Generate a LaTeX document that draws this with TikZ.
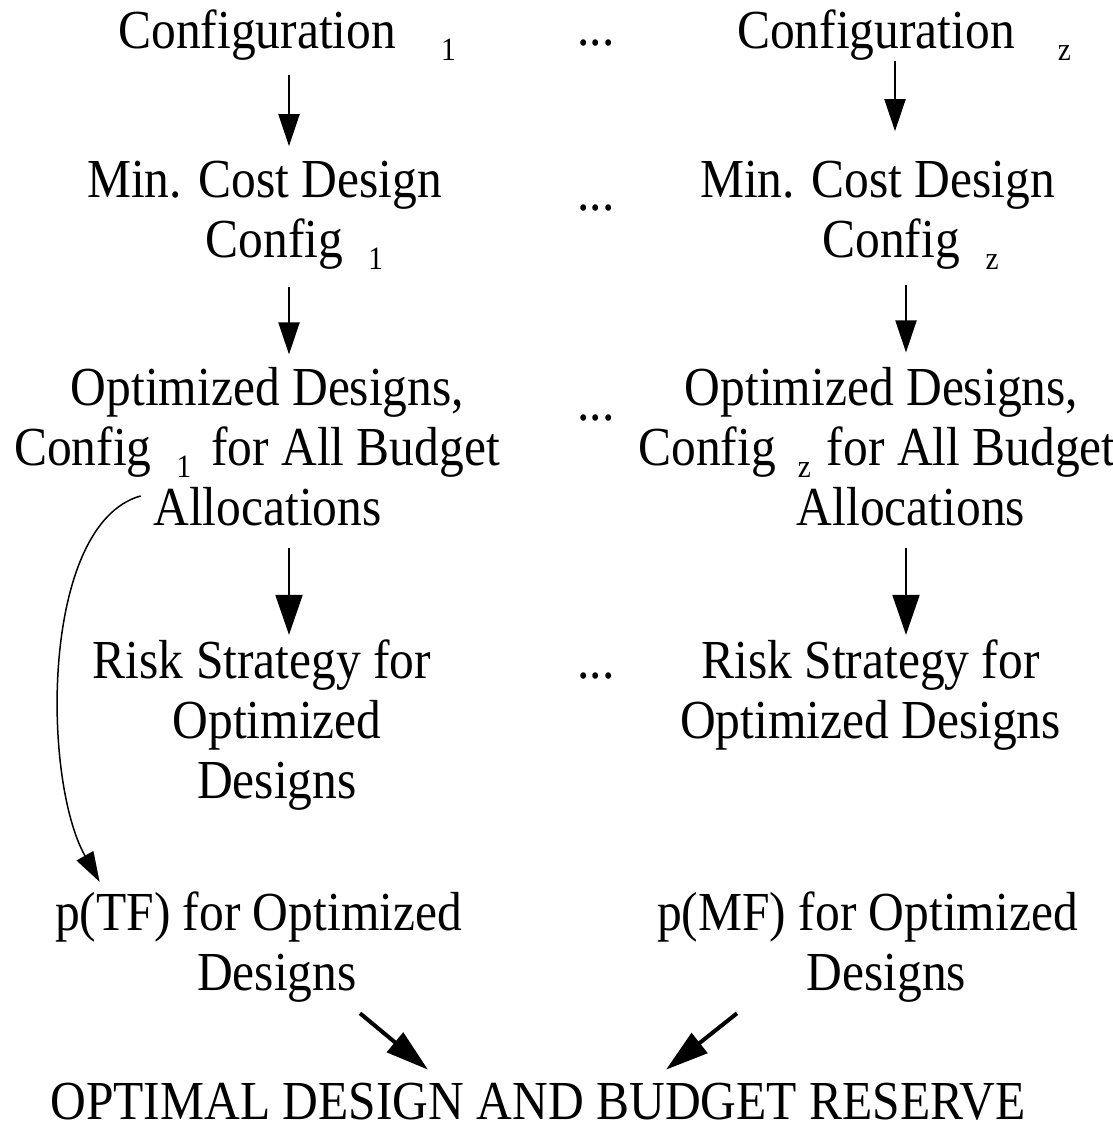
\documentclass[tikz,border=0pt]{standalone}
\usepackage{fontspec}
\setmainfont{Liberation Serif}[FakeStretch=0.9]
\usetikzlibrary{arrows.meta}

\newcommand{\idx}[1]{\raisebox{-6pt}{\fontsize{16.3}{18}\selectfont #1}}

\tikzset{
  blk/.style={font=\fontsize{27.5}{30}\selectfont, inner sep=0pt, align=center, anchor=base},
  flow/.style={line width=1pt, -{Triangle[length=16pt,width=10.5pt]}},
  bigflow/.style={line width=1pt, -{Triangle[length=20pt,width=13.5pt]}},
  joinflow/.style={line width=2pt, -{Triangle[length=21.5pt,width=12.5pt]}},
  sidearc/.style={line width=0.75pt, -{Triangle[length=15pt,width=9.5pt]}},
}

\begin{document}
\begin{tikzpicture}[x=0.5pt,y=-0.5pt]
    \useasboundingbox (0,0) rectangle (1113,1124);
    % first configuration (y is the baseline of the last line)
    \node[blk] (cfgA) at (287,48) {Configuration\hspace{22.5pt}\idx{1}};
    \node[blk] (mcdA) at (264.5,257) {Min. Cost Design\\\hspace*{30pt}Config\hspace{12.5pt}\idx{1}};
    \node[blk] (optA) at (267.5,525) {Optimized Designs,\\Config\hspace{12.5pt}\idx{1}\hspace{10pt}for All Budget\hspace*{10.5pt}\null\\Allocations};
    \node[blk] (riskA) at (262,798) {Risk Strategy for\\\hspace*{15pt}Optimized\\\hspace*{15pt}Designs};
    \node[blk] (ptfA) at (258.5,990) {p(TF) for Optimized\\\hspace*{18.5pt}Designs};
    % last configuration
    \node[blk] (cfgZ) at (904,48) {Configuration\hspace{21.5pt}\idx{z}};
    \node[blk] (mcdZ) at (877.5,257) {Min. Cost Design\\\hspace*{33pt}Config\hspace{13pt}\idx{z}};
    \node[blk] (optZ) at (881.5,525) {Optimized Designs,\\Config\hspace{11pt}\idx{z}\hspace{8pt}for All Budget\hspace*{4.5pt}\null\\\hspace*{29.5pt}Allocations};
    \node[blk] (riskZ) at (870.5,738) {Risk Strategy for\\Optimized Designs};
    \node[blk] (pmfZ) at (867.5,990) {p(MF) for Optimized\\\hspace*{19pt}Designs};
    % the ones in between
    \foreach \y [count=\i] in {45,210,420,678}
        \node[blk] (dots\i) at (596,\y) {...};
    % result
    \node[blk] (goal) at (538,1119) {OPTIMAL DESIGN AND BUDGET RESERVE};

    % column lanes
    \coordinate (laneA) at (289,0);
    \coordinate (laneZtop) at (895,0);
    \coordinate (laneZ) at (906,0);

    % arrows down the columns
    \draw[flow, shorten <=7.5pt, shorten >=7pt] (cfgA.south -| laneA) -- (mcdA.north -| laneA);
    \draw[flow, shorten <=9pt, shorten >=6pt] (mcdA.south -| laneA) -- (optA.north -| laneA);
    \draw[bigflow, shorten <=11pt, shorten >=2pt] (optA.south -| laneA) -- (riskA.north -| laneA);
    \draw[flow, shorten <=0.5pt, shorten >=14.5pt] (cfgZ.south -| laneZtop) -- (mcdZ.north -| laneZtop);
    \draw[flow, shorten <=8pt, shorten >=7pt] (mcdZ.south -| laneZ) -- (optZ.north -| laneZ);
    \draw[bigflow, shorten <=11pt, shorten >=2pt] (optZ.south -| laneZ) -- (riskZ.north -| laneZ);

    % side arc to p(TF)
    \draw[sidearc] ([shift={(127,-30)}]optA.south west) .. controls +(-100,28) and +(-58,-103) .. ([shift={(45,-9)}]ptfA.north west);

    % both feed the result
    \draw[joinflow] ([shift={(101.5,11)}]ptfA.south) -- ([shift={(-110,-12.5)}]goal.north);
    \draw[joinflow] ([shift={(-130.5,11)}]pmfZ.south) -- ([shift={(128,-12.5)}]goal.north);
\end{tikzpicture}
\end{document}
